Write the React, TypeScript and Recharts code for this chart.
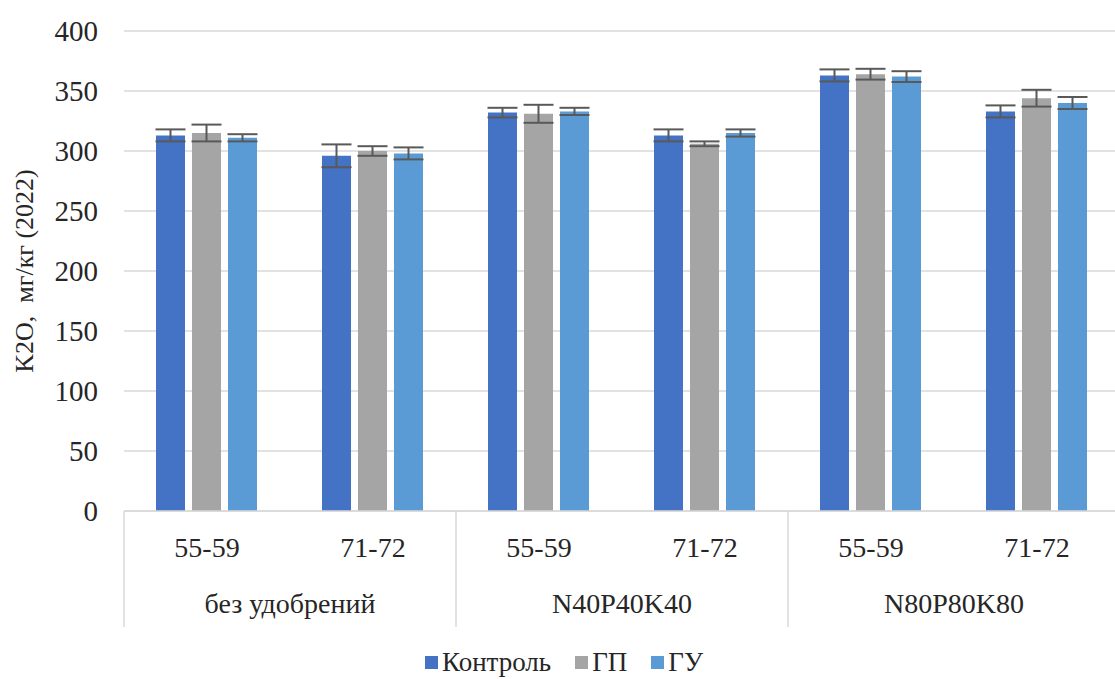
import { BarChart, Bar, XAxis, YAxis, CartesianGrid, ErrorBar, Legend } from "recharts";

// подкатегории (возраст) и группы удобрений
const categories = ["55-59", "71-72", "55-59", "71-72", "55-59", "71-72"];
const groups = ["без удобрений", "N40P40K40", "N80P80K80"];

const kontrol = [313, 296, 332, 313, 363, 333];
const kontrolErr = [5, 9.5, 4, 5, 5, 5];
const gp = [315, 300, 331, 306, 364, 344];
const gpErr = [7, 4, 7.5, 2, 4.5, 7];
const gu = [311, 298, 333, 315, 362, 340];
const guErr = [3, 5, 3, 3, 4.5, 5];

const yTicks = [0, 50, 100, 150, 200, 250, 300, 350, 400];

const series = [
  { key: "kontrol", err: "kontrolErr", name: "Контроль", color: "#4472C4" },
  { key: "gp", err: "gpErr", name: "ГП", color: "#A5A5A5" },
  { key: "gu", err: "guErr", name: "ГУ", color: "#5B9BD5" },
];

const data = categories.map((c, i) => ({
  idx: i,
  cat: c,
  kontrol: kontrol[i],
  kontrolErr: kontrolErr[i],
  gp: gp[i],
  gpErr: gpErr[i],
  gu: gu[i],
  guErr: guErr[i],
}));

const FONT = "Liberation Serif, Tinos, Times New Roman, DejaVu Serif, serif";
const TEXT = "#262626";
const LINE = "#d9d9d9";
const BAND = 166; // ширина одной категории в px

function CategoryTick(props: any) {
  const { x, y, payload } = props;
  const i = payload.index ?? payload.value;
  const isFirst = i % 2 === 0;
  return (
    <g>
      <text x={x} y={y + 46} textAnchor="middle" style={{ fontFamily: FONT, fontSize: 28 }} fill={TEXT}>
        {categories[i]}
      </text>
      {isFirst && (
        <>
          <line x1={x - BAND / 2} y1={y} x2={x - BAND / 2} y2={y + 116} stroke={LINE} strokeWidth={1.5} />
          <text x={x + BAND / 2} y={y + 102} textAnchor="middle" style={{ fontFamily: FONT, fontSize: 28 }} fill={TEXT}>
            {groups[i / 2]}
          </text>
        </>
      )}
      {i === categories.length - 1 && (
        <line x1={x + BAND / 2} y1={y} x2={x + BAND / 2} y2={y + 116} stroke={LINE} strokeWidth={1.5} />
      )}
    </g>
  );
}

function LegendContent() {
  return (
    <div style={{ display: "flex", justifyContent: "center", alignItems: "center", gap: 24, fontFamily: FONT, fontSize: 27, color: TEXT, paddingLeft: 8, paddingTop: 3 }}>
      {series.map(s => (
        <div key={s.key} style={{ display: "flex", alignItems: "center", gap: 4 }}>
          <span style={{ width: 13, height: 13, background: s.color, display: "inline-block" }} />
          <span>{s.name}</span>
        </div>
      ))}
    </div>
  );
}

export default function App() {
  return (
    <div style={{ position: "absolute", left: 0, top: 0, width: 1115, height: 679, overflow: "hidden", background: "#fff" }}>
      <BarChart
        width={1120}
        height={679}
        data={data}
        margin={{ top: 31, right: 0, bottom: 0, left: 0 }}
        barCategoryGap={32}
        barGap={7}
      >
        <CartesianGrid vertical={false} stroke={LINE} strokeWidth={1.5} />
        <XAxis
          dataKey="idx"
          type="category"
          height={133}
          tickLine={false}
          tickSize={0}
          tickMargin={0}
          axisLine={{ stroke: LINE, strokeWidth: 1.5 }}
          tick={<CategoryTick />}
          interval={0}
        />
        <YAxis
          width={124}
          domain={[0, 400]}
          ticks={yTicks}
          axisLine={false}
          tickLine={false}
          tickSize={0}
          tickMargin={26}
          tick={{ fontFamily: FONT, fontSize: 29, fill: TEXT, style: { fontFamily: FONT } }}
          label={{
            value: "K2O,\u00a0 мг/кг (2022)",
            angle: -90,
            position: "insideLeft",
            offset: 24,
            style: { fontFamily: FONT, fontSize: 26, fill: TEXT, textAnchor: "middle" },
          }}
        />
        <Legend verticalAlign="bottom" height={35} content={<LegendContent />} />
        {series.map(s => (
          <Bar key={s.key} dataKey={s.key} name={s.name} fill={s.color} isAnimationActive={false}>
            <ErrorBar dataKey={s.err} width={15} stroke="#595959" strokeWidth={2} direction="y" />
          </Bar>
        ))}
      </BarChart>
    </div>
  );
}
